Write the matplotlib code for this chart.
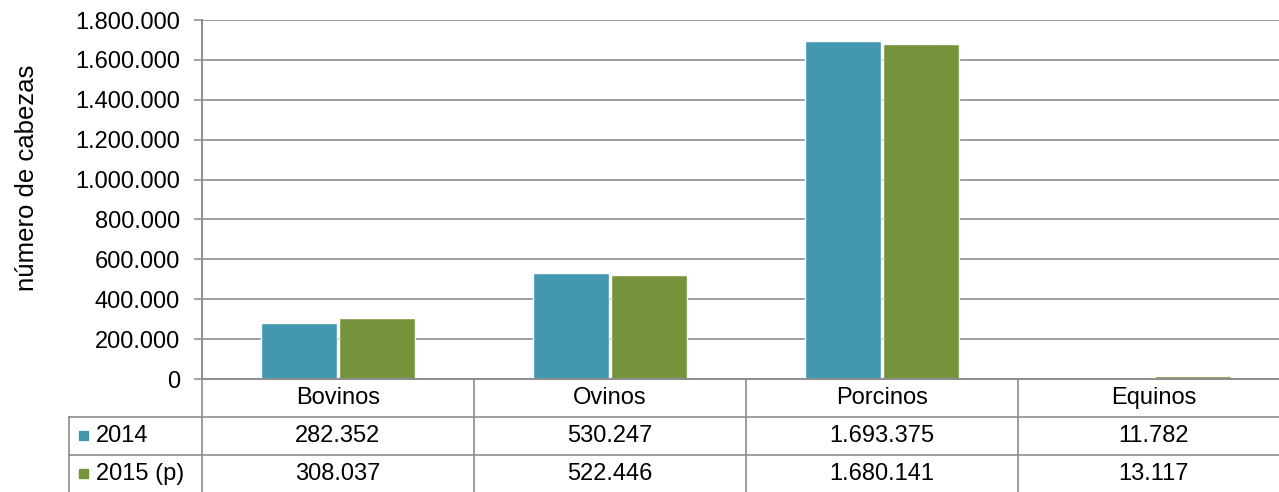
import matplotlib.pyplot as plt
from matplotlib.ticker import FuncFormatter

plt.rcParams['font.family'] = ['Liberation Sans', 'DejaVu Sans']

categorias = ['Bovinos', 'Ovinos', 'Porcinos', 'Equinos']
series = ['2014', '2015 (p)']
v2014 = [282352, 530247, 1693375, 11782]
v2015 = [308037, 522446, 1680141, 13117]
colores = ['#4398AF', '#77933C']

W, H = 1279, 492
fs = 17
fig = plt.figure(figsize=(W / 100, H / 100), dpi=100)
# area del grafico en pixeles
x0, x1, ytop, ybot = 202, 1290, 20, 379
ax = fig.add_axes([x0 / W, (H - ybot) / H, (x1 - x0) / W, (ybot - ytop) / H])

gris = '#8c8c8c'
ancho = 0.28
xs = list(range(len(categorias)))
ax.bar([x - ancho / 2 - 0.004 for x in xs], v2014, ancho, color=colores[0],
       edgecolor='white', linewidth=1, zorder=2)
ax.bar([x + ancho / 2 + 0.004 for x in xs], v2015, ancho, color=colores[1],
       edgecolor='white', linewidth=1, zorder=2)

ax.set_xlim(-0.5, 3.5)
ax.set_ylim(0, 1800000)
ax.set_yticks(range(0, 1800001, 200000))
ax.yaxis.set_major_formatter(FuncFormatter(lambda v, p: f'{int(v):,}'.replace(',', '.')))
ax.tick_params(axis='y', labelsize=fs, length=6, width=1.1, color=gris, pad=10)
ax.set_xticks([])
ax.grid(axis='y', color=gris, linewidth=1.2, zorder=0)
for s in ['top', 'right']:
    ax.spines[s].set_visible(False)
for s in ['left', 'bottom']:
    ax.spines[s].set_color(gris)
    ax.spines[s].set_linewidth(1.4)
    ax.spines[s].set_zorder(3)

# titulo del eje y
fig.text(27 / W, (H - 178) / H, 'número de cabezas', rotation=90, ha='center',
         va='center', fontsize=18.5)

# tabla de datos debajo del eje
def fy(py):
    return (ybot - py) / (ybot - ytop)

tr = ax.get_xaxis_transform()
xizq = (69 - x0) / 272 - 0.5
for xb in [0.5, 1.5, 2.5]:
    ax.plot([xb, xb], [fy(379), fy(493)], color=gris, lw=1.2, transform=tr, clip_on=False)
ax.plot([-0.5, -0.5], [fy(379), fy(493)], color=gris, lw=1.2, transform=tr, clip_on=False)
ax.plot([xizq, xizq], [fy(417), fy(493)], color=gris, lw=1.2, transform=tr, clip_on=False)
for py in [417, 455]:
    ax.plot([xizq, 3.6], [fy(py), fy(py)], color=gris, lw=1.2, transform=tr, clip_on=False)

for i, c in enumerate(categorias):
    ax.text(i, fy(398), c, ha='center', va='center', fontsize=fs, transform=tr)
    ax.text(i, fy(436), f'{v2014[i]:,}'.replace(',', '.'), ha='center', va='center',
            fontsize=fs, transform=tr)
    ax.text(i, fy(474), f'{v2015[i]:,}'.replace(',', '.'), ha='center', va='center',
            fontsize=fs, transform=tr)

for j, (nombre, py) in enumerate(zip(series, [436, 474])):
    fig.patches.append(plt.Rectangle((79 / W, (H - py - 4) / H), 9 / W, 9 / H,
                                     color=colores[j], transform=fig.transFigure))
    fig.text(96 / W, (H - py) / H, nombre, ha='left', va='center', fontsize=fs)

fig.savefig('out.png', dpi=100)
